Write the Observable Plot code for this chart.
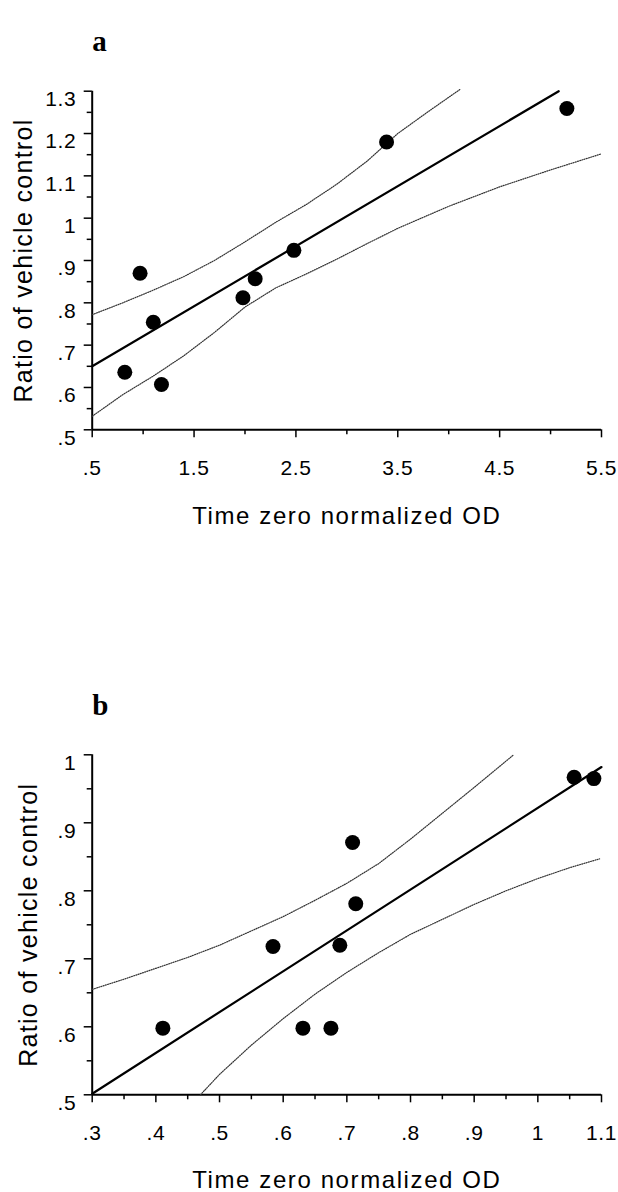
<!DOCTYPE html>
<html>
<head>
<meta charset="utf-8">
<script src="https://cdn.jsdelivr.net/npm/d3@7"></script>
<script src="https://cdn.jsdelivr.net/npm/@observablehq/plot@0.6"></script>
<style>
  html, body { margin: 0; padding: 0; background: white; }
  #chart { width: 618px; }
  #chart svg { display: block; }
  g[font-size="21"] text { letter-spacing: 0.6px; }
  g[font-size="24"] text { letter-spacing: 1.6px; }
  g[font-size="25"] text { letter-spacing: 1.3px; }
</style>
</head>
<body>
<div id="chart"></div>
<script>
// ---------- Panel a data ----------
const aPointX = [0.82, 0.97, 1.10, 1.18, 1.98, 2.10, 2.48, 3.39, 5.16];
const aPointY = [0.636, 0.870, 0.754, 0.607, 0.812, 0.857, 0.924, 1.180, 1.259];
const aFitX = [0.5, 5.08];
const aFitY = [0.650, 1.300];
const aUpperX = [0.5, 0.8, 1.1, 1.4, 1.7, 2.0, 2.3, 2.6, 2.9, 3.2, 3.5, 3.8, 4.11];
const aUpperY = [0.772, 0.800, 0.830, 0.862, 0.900, 0.944, 0.990, 1.032, 1.080, 1.135, 1.200, 1.252, 1.304];
const aLowerX = [0.5, 0.8, 1.1, 1.4, 1.7, 2.0, 2.3, 2.6, 2.9, 3.2, 3.5, 4.0, 4.5, 5.0, 5.5];
const aLowerY = [0.532, 0.583, 0.627, 0.675, 0.730, 0.790, 0.835, 0.868, 0.903, 0.940, 0.976, 1.028, 1.074, 1.114, 1.152];
const aXMajor = [0.5, 1.5, 2.5, 3.5, 4.5, 5.5];
const aXMajorLabels = [".5", "1.5", "2.5", "3.5", "4.5", "5.5"];
const aXMinor = [1, 2, 3, 4, 5];
const aYMajor = [0.5, 0.6, 0.7, 0.8, 0.9, 1.0, 1.1, 1.2, 1.3];
const aYMajorLabels = [".5", ".6", ".7", ".8", ".9", "1", "1.1", "1.2", "1.3"];
const aYMinor = [0.55, 0.65, 0.75, 0.85, 0.95, 1.05, 1.15, 1.25];

// ---------- Panel b data ----------
const bPointX = [0.411, 0.584, 0.631, 0.675, 0.689, 0.709, 0.714, 1.057, 1.088];
const bPointY = [0.598, 0.718, 0.598, 0.598, 0.720, 0.871, 0.781, 0.967, 0.965];
const bFitX = [0.3, 1.1];
const bFitY = [0.5015, 0.982];
const bUpperX = [0.3, 0.35, 0.4, 0.45, 0.5, 0.55, 0.6, 0.65, 0.7, 0.75, 0.8, 0.85, 0.9, 0.962];
const bUpperY = [0.655, 0.670, 0.686, 0.702, 0.720, 0.741, 0.762, 0.786, 0.811, 0.840, 0.876, 0.914, 0.952, 1.0];
const bLowerX = [0.47, 0.5, 0.55, 0.6, 0.65, 0.7, 0.75, 0.8, 0.85, 0.9, 0.95, 1.0, 1.05, 1.097];
const bLowerY = [0.5, 0.53, 0.573, 0.612, 0.648, 0.680, 0.709, 0.736, 0.758, 0.780, 0.800, 0.818, 0.834, 0.847];
const bXMajor = [0.3, 0.4, 0.5, 0.6, 0.7, 0.8, 0.9, 1.0, 1.1];
const bXMajorLabels = [".3", ".4", ".5", ".6", ".7", ".8", ".9", "1", "1.1"];
const bXMinor = [0.35, 0.45, 0.55, 0.65, 0.75, 0.85, 0.95, 1.05];
const bYMajor = [0.5, 0.6, 0.7, 0.8, 0.9, 1.0];
const bYMajorLabels = [".5", ".6", ".7", ".8", ".9", "1"];
const bYMinor = [0.55, 0.65, 0.75, 0.85, 0.95];

const xTitle = "Time zero normalized OD";
const yTitle = "Ratio of vehicle control";

const zip = (xs, ys) => xs.map((x, i) => ({x, y: ys[i]}));

function panel(o) {
  const sans = "'Liberation Sans', Arial, Helvetica, sans-serif";
  const band = {x: "x", y: "y", stroke: "#333", strokeWidth: 1.2, strokeDasharray: "1,1.3"};
  return Plot.plot({
    width: 618,
    height: o.height,
    marginTop: o.mt,
    marginBottom: o.mb,
    marginLeft: 91.7,
    marginRight: 17,
    x: {domain: o.xDomain},
    y: {domain: o.yDomain},
    style: {fontFamily: sans, background: "white", color: "black"},
    marks: [
      Plot.axisY(o.yMinor, {tickSize: 5, tickFormat: () => "", label: null, strokeWidth: 1.5}),
      Plot.axisY(o.yMajor, {tickSize: 8, tickFormat: () => "", label: null, strokeWidth: 1.5}),
      Plot.axisX(o.xMinor, {tickSize: 5, tickFormat: () => "", label: null, strokeWidth: 1.5}),
      Plot.axisX(o.xMajor, {tickSize: 8, tickFormat: () => "", label: null, strokeWidth: 1.5}),
      Plot.text(o.yMajor, {x: () => o.xDomain[0], y: d => d, text: (d, i) => o.yLabels[i],
        textAnchor: "end", dx: -16, dy: 8, fontSize: 21, fontFamily: sans}),
      Plot.text(o.xMajor, {x: d => d, frameAnchor: "bottom", text: (d, i) => o.xLabels[i],
        textAnchor: "middle", lineAnchor: "top", dy: 30, fontSize: 21, fontFamily: sans}),
      Plot.ruleX([o.xDomain[0]], {strokeWidth: 2}),
      Plot.ruleY([o.yDomain[0]], {strokeWidth: 2}),
      Plot.line(o.upper, band),
      Plot.line(o.lower, band),
      Plot.line(o.fit, {x: "x", y: "y", stroke: "black", strokeWidth: 2.2}),
      Plot.dot(o.pts, {x: "x", y: "y", r: 7.5, fill: "black", stroke: "none"}),
      Plot.text([xTitle], {text: d => d, frameAnchor: "bottom", textAnchor: "middle", lineAnchor: "bottom",
        dy: o.xTitleDy, fontSize: 24, fontFamily: sans}),
      Plot.text([yTitle], {text: d => d, frameAnchor: "left", textAnchor: "middle", rotate: -90,
        lineAnchor: "bottom", dx: o.yTitleDx, fontSize: 25, fontFamily: sans}),
      Plot.text([o.letter], {text: d => d, frameAnchor: "top-left", textAnchor: "start", lineAnchor: "bottom",
        dy: -40, fontSize: 29, fontWeight: "bold", fontFamily: "'Liberation Serif', 'Times New Roman', serif"})
    ]
  });
}

const chart = document.getElementById("chart");
chart.append(panel({
  height: 600, mt: 90.7, mb: 170.7,
  xDomain: [0.5, 5.5], yDomain: [0.5, 1.3],
  xMajor: aXMajor, xMinor: aXMinor, yMajor: aYMajor, yMinor: aYMinor,
  xLabels: aXMajorLabels, yLabels: aYMajorLabels,
  pts: zip(aPointX, aPointY), fit: zip(aFitX, aFitY),
  upper: zip(aUpperX, aUpperY), lower: zip(aLowerX, aLowerY),
  xTitleDy: 94, yTitleDx: -60, letter: "a"
}));
chart.append(panel({
  height: 592, mt: 154.3, mb: 97.7,
  xDomain: [0.3, 1.1], yDomain: [0.5, 1.0],
  xMajor: bXMajor, xMinor: bXMinor, yMajor: bYMajor, yMinor: bYMinor,
  xLabels: bXMajorLabels, yLabels: bYMajorLabels,
  pts: zip(bPointX, bPointY), fit: zip(bFitX, bFitY),
  upper: zip(bUpperX, bUpperY), lower: zip(bLowerX, bLowerY),
  xTitleDy: 93, yTitleDx: -55, letter: "b"
}));
</script>
</body>
</html>
